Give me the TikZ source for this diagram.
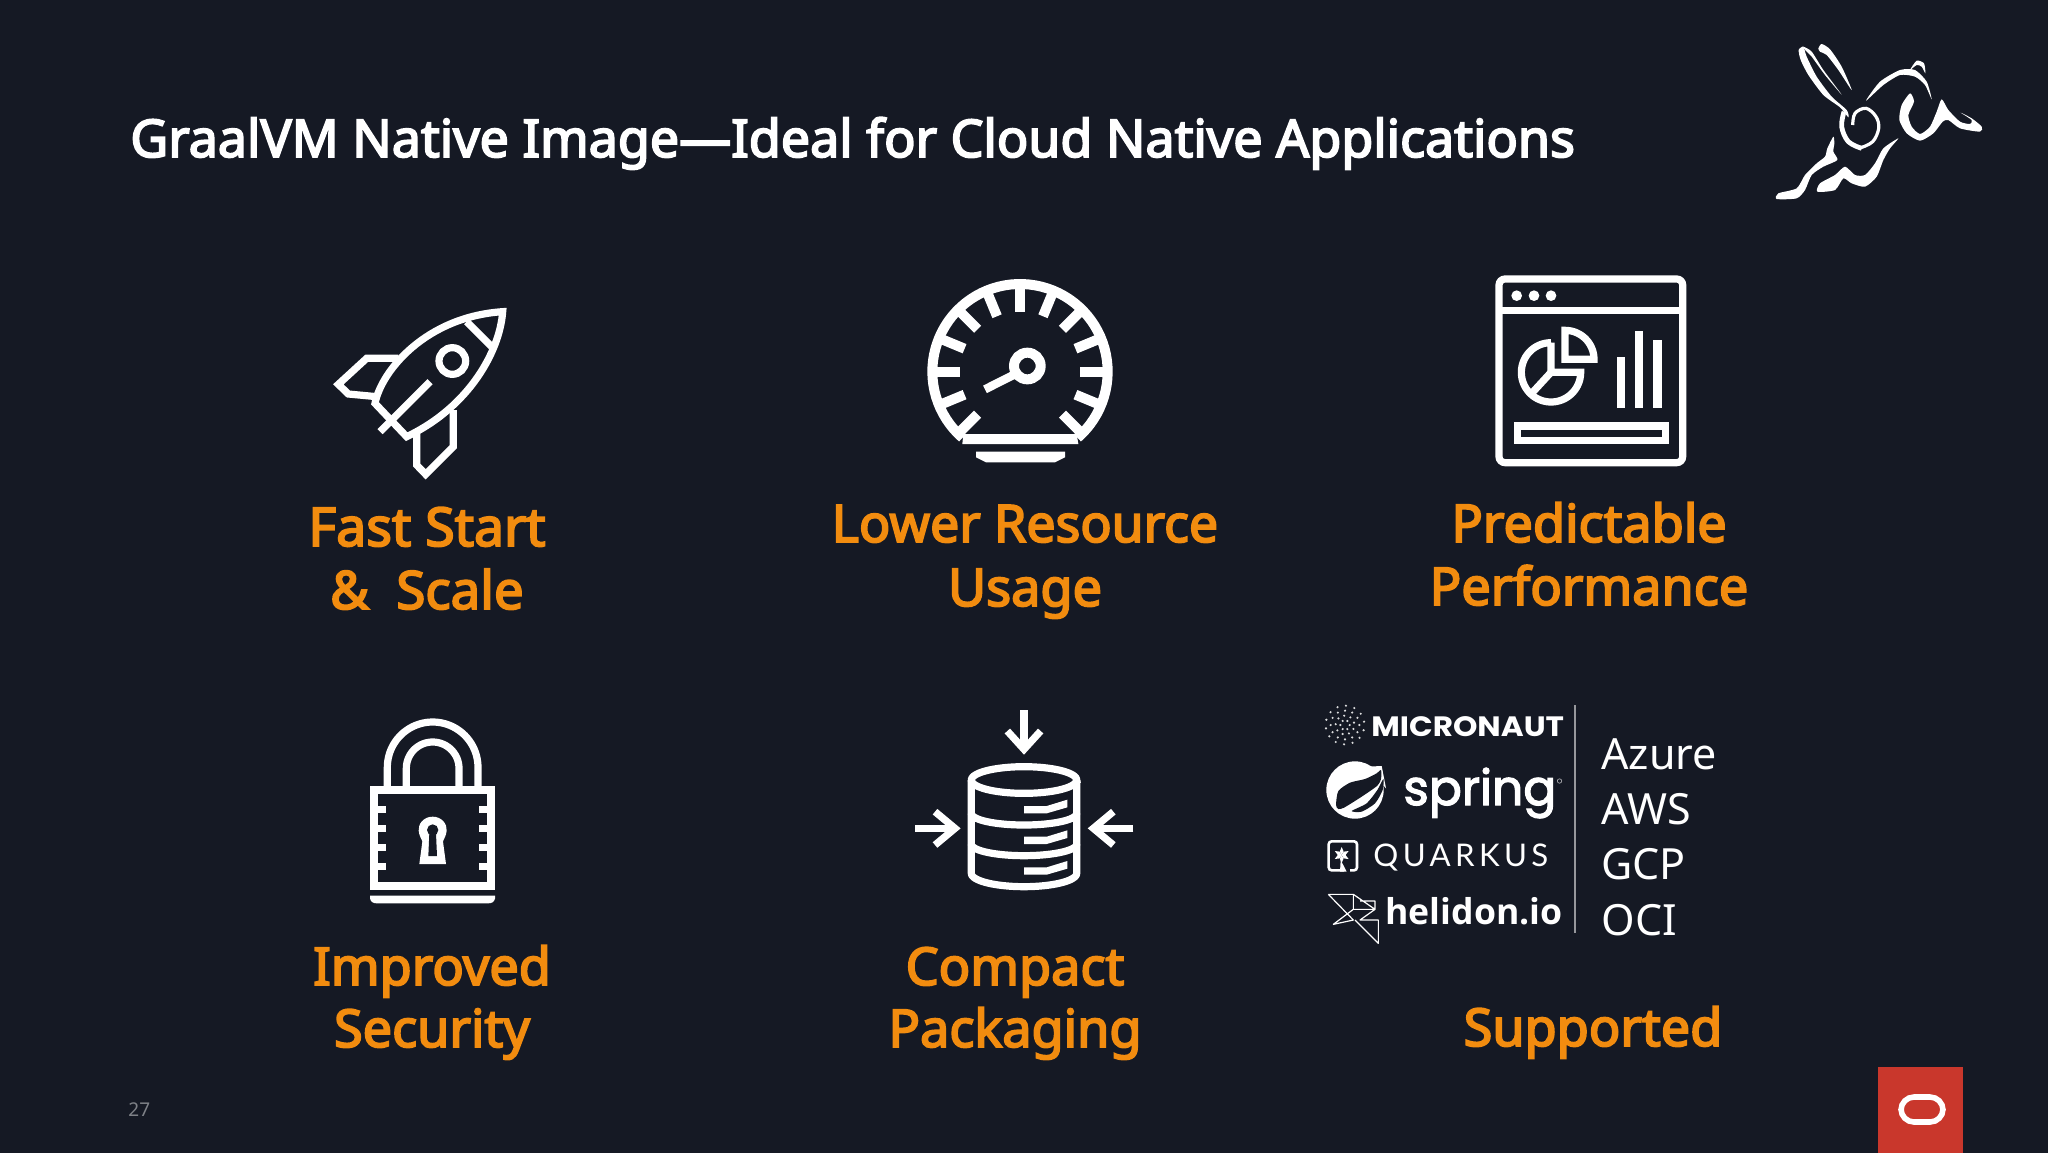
\documentclass[tikz,border=0pt]{standalone}
\usepackage{fontspec}
\usepackage{graphicx}
\setmainfont{Noto Sans}
\newfontfamily\semi{Noto Sans}[FakeBold=3.5]
\newfontfamily\pop{Poppins}
\newfontfamily\popf{Poppins}[FakeBold=2.5]
\newfontfamily\lat{Lato}[LetterSpace=14]
\newfontfamily\ops{Open Sans}
\definecolor{bg}{HTML}{151924}
\definecolor{orng}{HTML}{F28C0F}
\definecolor{orcl}{HTML}{C9372C}
\tikzset{
 x=0.5pt,y=-0.5pt,
 ico/.style={draw=white,line width=3.6pt,fill=none,line join=miter},
 sm/.style={smooth cycle,tension=0.4},
 arcs/.style={domain=#1,samples=70},
 title/.style={text=white,font=\fontsize{26pt}{30pt}\semi,anchor=base west,inner sep=0pt},
 lab/.style={text=orng,font=\fontsize{26.1pt}{30pt}\semi,anchor=base,inner sep=0pt},
 cloud/.style={text=white,font=\fontsize{21.5pt}{26pt}\selectfont,anchor=base west,inner sep=0pt},
}
\begin{document}
\begin{tikzpicture}
\useasboundingbox (0,0) rectangle (2048,1152);
\fill[bg] (-10,-10) rectangle (2058,1162);
\node[title] (ttl) at (130,157) {GraalVM Native Image—Ideal for Cloud Native Applications};

% rabbit
\begin{scope}[shift={(1740,20)},scale=1/3]
\fill[white] plot[sm] coordinates {(176,90)(190,80)(200,110)(230,170)(275,230)(320,270)(325,292)(300,262)(250,225)(205,165)(182,120)};
\fill[white] plot[sm] coordinates {(190,80)(215,95)(250,150)(305,224)(255,165)(215,110)(195,90)};
\fill[white] plot[sm] coordinates {(235,85)(245,72)(270,88)(305,140)(335,210)(295,150)(260,105)(240,95)};
\fill[white] plot[sm] coordinates {(378,242)(420,185)(480,150)(525,150)(560,185)(575,238)(555,195)(525,170)(480,165)(430,195)};
\fill[white] plot[sm] coordinates {(510,150)(530,122)(552,130)(556,160)(545,140)(530,135)};
\fill[white] plot[sm] coordinates {(510,220)(485,255)(478,300)(500,340)(540,362)(580,340)(608,305)(625,300)(660,325)(720,335)(725,320)(695,295)(662,278)(695,300)(690,312)(660,305)(625,270)(605,238)(590,275)(570,320)(540,342)(515,320)(505,285)(522,245)};
\fill[white] plot[sm] coordinates {(280,350)(262,385)(255,410)(230,430)(195,465)(170,505)(115,520)(110,537)(170,535)(195,510)(215,465)(250,440)(292,420)(280,395)(283,370)};
\fill[white] plot[sm] coordinates {(475,355)(430,385)(405,430)(375,465)(345,465)(315,440)(285,465)(240,490)(232,515)(285,510)(310,475)(335,490)(375,500)(410,470)(430,420)(450,385)};
% spiral
\draw[white,line width=1.6pt] plot[smooth,tension=.6] coordinates {(338,315)(345,280)(378,265)(408,290)(416,325)(398,365)(360,384)};
\draw[white,line width=2.4pt] plot[smooth,tension=.6] coordinates {(365,385)(325,365)(305,320)(312,275)};
\end{scope}

% rocket
\begin{scope}[shift={(310,290)},scale=1/3]
\draw[ico] (195,340) .. controls (215,240) and (350,80) .. (578,65) .. controls (570,180) and (480,350) .. (290,440) -- cycle;
\draw[ico] (470,95) -- (545,170);
\draw[ico] (427,213) circle[radius=40];
\draw[ico] (360,275) -- (210,425);
\draw[ico] (265,205) -- (170,205) -- (85,283) -- (115,312) -- (200,320);
\draw[ico] (430,360) -- (430,470) -- (347,553) -- (320,525) -- (320,430);
\end{scope}

% gauge
\begin{scope}[shift={(900,260)},scale=1/3]
\draw[white,line width=5pt] plot[arcs=-49:229] ({360+263*cos(\x)},{335-263*sin(\x)});
\fill[white] (190,522) -- (530,522) -- (535,552) -- (187,552) -- cycle;
\fill[white] (228,575) -- (495,575) -- (495,592) -- (465,607) -- (258,607) -- (228,592) -- cycle;
\foreach \a in {-45,-22.5,0,22.5,45,67.5,90,112.5,135,157.5,180,202.5,225}
 \draw[white,line width=5pt] ({360+250*cos(\a)},{335-250*sin(\a)}) -- ({360+180*cos(\a)},{335-180*sin(\a)});
\draw[white,line width=5pt] (382,318) circle[radius=40];
\draw[white,line width=4.2pt] (340,345) -- (255,388);
\end{scope}

% dashboard
\begin{scope}[shift={(1480,260)},scale=1/3]
\draw[ico,rounded corners=3pt] (57,57) rectangle (608,608);
\draw[ico] (57,152) -- (608,152);
\foreach \c in {110,162,213} \fill[white] (\c,107) circle[radius=16];
\draw[ico] plot[arcs=90:360] ({213+89*cos(\x)},{337-89*sin(\x)}) -- (213,337) -- (213,248);
\draw[ico] (213,337) -- (155,400);
\draw[ico] plot[arcs=0:90] ({255+87*cos(\x)},{298-87*sin(\x)}) -- (255,298) -- cycle;
\fill[white] (410,290) rectangle (435,443);
\fill[white] (465,212) rectangle (490,443);
\fill[white] (520,240) rectangle (545,443);
\draw[ico] (113,498) rectangle (556,541);
\end{scope}

% lock
\begin{scope}[shift={(340,700)},scale=1/3]
\draw[ico,line width=3.9pt] (101,270) rectangle (453,558);
\draw[ico] (142,262) -- plot[arcs=180:0] ({278+136*cos(\x)},{202-136*sin(\x)}) -- (414,262);
\draw[ico] (199,262) -- plot[arcs=180:0] ({278+79*cos(\x)},{205-79*sin(\x)}) -- (357,262);
\foreach \yy in {328,385,443,500}{
 \fill[white] (113,\yy-10) rectangle (137,\yy+10);
 \fill[white] (418,\yy-10) rectangle (442,\yy+10);
}
\fill[white] (278,350) .. controls (305,350) and (322,372) .. (320,392) .. controls (319,408) and (310,418) .. (309,425) -- (318,492) -- (238,492) -- (247,425) .. controls (246,418) and (237,408) .. (236,392) .. controls (234,372) and (251,350) .. (278,350) -- cycle;
\fill[bg] (278,390) circle[radius=17];
\fill[bg] (268,400) -- (288,400) -- (291,468) -- (265,468) -- cycle;
\fill[white] (90,587) -- (465,587) -- (465,596) .. controls (462,606) and (455,610) .. (445,610) -- (110,610) .. controls (100,610) and (93,606) .. (90,596) -- cycle;
\end{scope}

% database
\begin{scope}[shift={(900,700)},scale=1/3]
\draw[ico] plot[arcs=0:360] ({372+158*cos(\x)},{240-40*sin(\x)}) -- cycle;
\draw[ico] (214,240) -- plot[arcs=180:360] ({372+158*cos(\x)},{520-40*sin(\x)}) -- (530,240);
\draw[ico] plot[arcs=180:360] ({372+158*cos(\x)},{340-35*sin(\x)});
\draw[ico] plot[arcs=180:360] ({372+158*cos(\x)},{432-35*sin(\x)});
\foreach \dy in {0,92,184}
 \fill[white] (372,318+\dy) -- (440,318+\dy) -- (502,299+\dy) -- (502,322+\dy) -- (440,340+\dy) -- (372,340+\dy) -- cycle;
\draw[ico] (372,30) -- (372,150);
\draw[ico] (322,93) -- (372,148) -- (422,93);
\draw[ico] (45,385) -- (165,385);
\draw[ico] (105,335) -- (165,385) -- (105,435);
\draw[ico] (700,385) -- (580,385);
\draw[ico] (640,335) -- (580,385) -- (640,435);
\end{scope}

% labels
\node[lab,font=\fontsize{26.8pt}{30pt}\semi] (l1a) at (427,546) {Fast Start};
\node[lab,font=\fontsize{26.4pt}{30pt}\semi] (l1b) at (427,609) {\&\ \ Scale};
\node[lab,font=\fontsize{25.9pt}{30pt}\semi] (l2a) at (1025,542) {Lower Resource};
\node[lab] (l2b) at (1025,606) {Usage};
\node[lab] (l3a) at (1589,542) {Predictable};
\node[lab] (l3b) at (1589,605) {Performance};
\node[lab] (l4a) at (432,985) {Improved};
\node[lab] (l4b) at (432,1047) {Security};
\node[lab] (l5a) at (1015,985) {Compact};
\node[lab] (l5b) at (1015,1047) {Packaging};
\node[lab] (l6) at (1593,1046) {Supported};

% logos
\draw[color=white!55!bg,line width=0.8pt] (1575,705) -- (1575,933);
% micronaut
\begin{scope}[shift={(1320,700)},scale=1/3]
\foreach \r/\n/\o in {14/6/0,28/9/15,43/12/0,58/14/10}
 \foreach \i in {1,...,\n}
  \fill[white!85!bg] ({75+\r*cos(\o+\i*360/\n)},{75-\r*sin(\o+\i*360/\n)}) circle[radius=3.6];
\end{scope}
\node[anchor=base west,inner sep=0pt,text=white] (mic) at (1371,736) {\scalebox{1.11}[1]{\fontsize{14pt}{15pt}\pop\bfseries MICRONAUT}};
% spring
\begin{scope}[shift={(1320,755)},scale=1/3]
\fill[white] (105,105) circle[radius=86];
\fill[white] (140,35) -- (185,33) -- (198,100) -- cycle;
\fill[bg] plot[sm] coordinates {(48,150)(55,108)(90,83)(135,72)(170,55)(183,45)(183,72)(172,92)(125,125)(72,158)(55,162)};
\fill[bg] plot[sm] coordinates {(95,168)(140,145)(172,105)(190,72)(188,105)(165,145)(125,170)};
\end{scope}
\node[anchor=base west,inner sep=0pt,text=white] (spr) at (1403,805) {\fontsize{24.4pt}{28pt}\popf spring};
\draw[white!70!bg,line width=0.3pt] (1559.5,781) circle[radius=2.2];
% quarkus
\begin{scope}[shift={(1320,830)},scale=1/3]
\draw[white,line width=1.3pt,rounded corners=1.5pt] (72,121) -- (26,121) -- (26,34) -- (111,34) -- (111,121) -- (90,121);
\foreach \a in {30,90,150,210,270,330}
 \fill[white] (65,75) -- ({65+12*cos(\a+28)},{75-12*sin(\a+28)}) -- ({65+24*cos(\a)},{75-24*sin(\a)}) -- ({65+12*cos(\a-28)},{75-12*sin(\a-28)}) -- cycle;
\fill[white] (62,90) -- (80,125) -- (60,125) -- cycle;
\end{scope}
\node[anchor=base west,inner sep=0pt,text=white] (qrk) at (1373,866) {\fontsize{15.6pt}{18pt}\lat QUARKUS};
% helidon
\begin{scope}[shift={(1320,830)},scale=1/3]
\draw[white,line width=0.6pt,line join=round]
 (25,193) -- (100,193) -- (165,238) -- (100,238) -- (100,193)
 (25,193) -- (100,270) -- (40,283) -- (100,238)
 (120,213) -- (165,213) -- (165,238) -- (120,270) -- (175,270) -- (175,340) -- (105,270);
\end{scope}
\node[anchor=base west,inner sep=0pt,text=white] (hel) at (1385,924) {\fontsize{17.8pt}{22pt}\ops\bfseries helidon.io};
% clouds
\node[cloud] (az) at (1601,769) {Azure};
\node[cloud] (aw) at (1601,824) {AWS};
\node[cloud] (gc) at (1601,879) {GCP};
\node[cloud] (oc) at (1601,935) {OCI};

\node[anchor=base west,inner sep=0pt,text=white!45!bg,font=\fontsize{9.5pt}{11pt}\selectfont] (pg) at (128,1116) {27};

% oracle
\fill[orcl] (1878,1067) rectangle (1963,1162);
\draw[white,line width=2.8pt,rounded corners=6.5pt] (1901,1097) rectangle (1943,1122);
\end{tikzpicture}
\end{document}
